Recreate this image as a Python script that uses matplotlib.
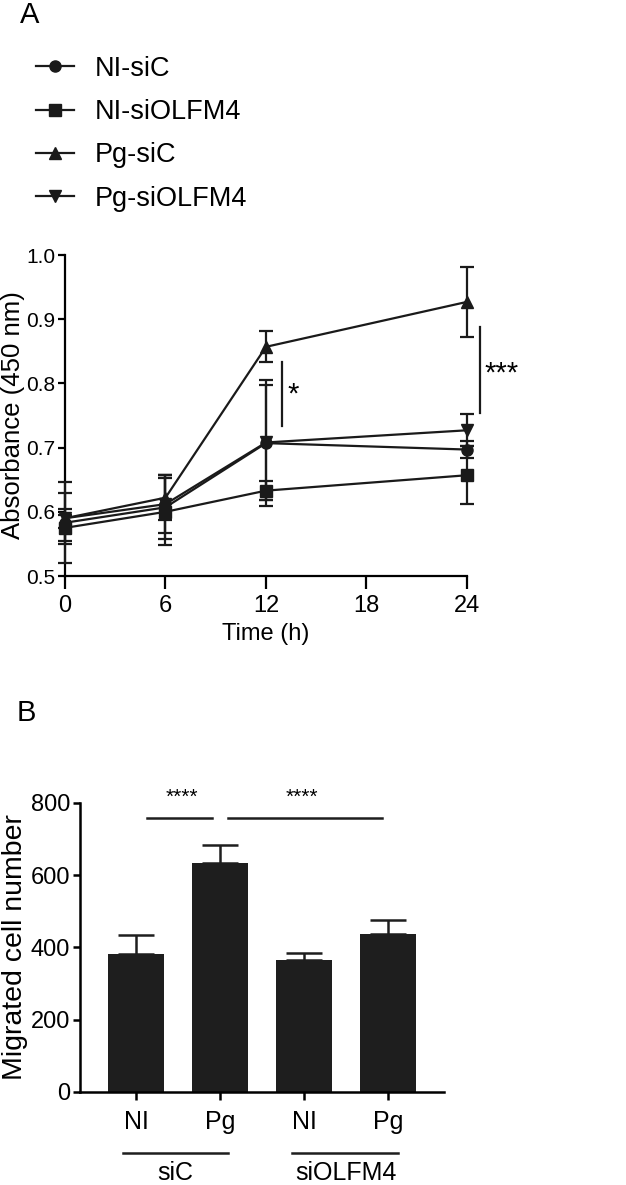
import matplotlib
matplotlib.use("Agg")
import matplotlib.pyplot as plt
from matplotlib.lines import Line2D

plt.rcParams['font.family'] = ['Liberation Sans', 'DejaVu Sans']

# Panel A data
time_h = [0, 6, 12, 24]
series_names = ['NI-siC', 'NI-siOLFM4', 'Pg-siC', 'Pg-siOLFM4']
series_markers = ['o', 's', '^', 'v']
absorbance = {
    'NI-siC':     [0.583, 0.607, 0.707, 0.697],
    'NI-siOLFM4': [0.575, 0.600, 0.633, 0.657],
    'Pg-siC':     [0.590, 0.622, 0.857, 0.927],
    'Pg-siOLFM4': [0.590, 0.612, 0.708, 0.727],
}
absorbance_err = {
    'NI-siC':     [0.063, 0.050, 0.098, 0.013],
    'NI-siOLFM4': [0.020, 0.052, 0.015, 0.045],
    'Pg-siC':     [0.015, 0.035, 0.024, 0.055],
    'Pg-siOLFM4': [0.040, 0.045, 0.090, 0.025],
}
x_ticks_a = [0, 6, 12, 18, 24]
y_ticks_a = [0.5, 0.6, 0.7, 0.8, 0.9, 1.0]

# Panel B data
groups = ['NI', 'Pg', 'NI', 'Pg']
migrated = [382, 633, 365, 436]
migrated_err = [52, 50, 21, 40]
y_ticks_b = [0, 200, 400, 600, 800]

ink = '#1a1a1a'
fig = plt.figure(figsize=(6.26, 11.85), dpi=100)

# ---------- Panel A ----------
ax = fig.add_axes([0.1038, 0.5139, 0.6422, 0.2709])
for name, mk in zip(series_names, series_markers):
    ax.errorbar(time_h, absorbance[name], yerr=absorbance_err[name],
                color=ink, marker=mk, markersize=8, linewidth=1.6,
                elinewidth=1.6, capsize=5, capthick=1.6, clip_on=False,
                zorder=3)
ax.set_xlim(0, 24)
ax.set_ylim(0.5, 1.0)
ax.set_xticks(x_ticks_a)
ax.set_yticks(y_ticks_a)
ax.set_yticklabels(['%.1f' % v for v in y_ticks_a])
ax.spines['top'].set_visible(False)
ax.spines['right'].set_visible(False)
for s in ['left', 'bottom']:
    ax.spines[s].set_linewidth(1.6)
ax.tick_params(axis='x', length=9, width=1.6, labelsize=17, pad=5)
ax.tick_params(axis='y', length=5, width=1.6, labelsize=15, pad=2)
ax.set_xlabel('Time (h)', fontsize=17, labelpad=4)
ax.set_ylabel('Absorbance (450 nm)', fontsize=18.5, labelpad=1)

# significance marks
ax.plot([12.95, 12.95], [0.733, 0.834], color=ink, lw=1.6, clip_on=False)
ax.text(13.3, 0.783, '*', fontsize=21, va='center', ha='left')
ax.plot([24.8, 24.8], [0.754, 0.888], color=ink, lw=1.6, clip_on=False)
ax.text(25.05, 0.815, '***', fontsize=21, va='center', ha='left')

handles = [Line2D([], [], color=ink, marker=mk, markersize=8, lw=1.6)
           for mk in series_markers]
fig.legend(handles, series_names, loc='upper left', bbox_to_anchor=(0.058, 0.953),
           frameon=False, fontsize=19.5, handlelength=1.4, handletextpad=0.75,
           labelspacing=0.64, borderaxespad=0, borderpad=0)

fig.text(0.032, 0.987, 'A', fontsize=21, ha='left', va='center')

# ---------- Panel B ----------
bx = fig.add_axes([0.1278, 0.0785, 0.5815, 0.2439])
pos = list(range(len(groups)))
bx.bar(pos, migrated, width=0.667, color='#1e1e1e', zorder=2)
bx.errorbar(pos, migrated, yerr=[[0] * len(migrated), migrated_err], fmt='none',
            ecolor='#1e1e1e', elinewidth=1.8, capsize=13, capthick=1.8, zorder=1)
bx.set_xlim(-0.667, 3.667)
bx.set_ylim(0, 800)
bx.set_yticks(y_ticks_b)
bx.set_xticks(pos)
bx.set_xticklabels(groups)
bx.spines['top'].set_visible(False)
bx.spines['right'].set_visible(False)
for s in ['left', 'bottom']:
    bx.spines[s].set_linewidth(1.8)
bx.tick_params(axis='x', length=6, width=1.8, labelsize=18, pad=7)
bx.tick_params(axis='y', length=5, width=1.8, labelsize=17, pad=2)
bx.set_ylabel('Migrated cell number', fontsize=20.5, labelpad=2)

# significance bars
bx.plot([0.13, 0.905], [758, 758], color='#1e1e1e', lw=1.8, clip_on=False)
bx.text(0.55, 790, '****', fontsize=15, ha='center', va='bottom')
bx.plot([1.095, 2.93], [758, 758], color='#1e1e1e', lw=1.8, clip_on=False)
bx.text(1.98, 790, '****', fontsize=15, ha='center', va='bottom')

# group labels below the axis
trans = bx.get_xaxis_transform()
bx.plot([-0.15, 1.1], [-0.21, -0.21], color='#1e1e1e', lw=1.8, transform=trans, clip_on=False)
bx.text(0.47, -0.24, 'siC', fontsize=18, ha='center', va='top', transform=trans)
bx.plot([1.86, 3.12], [-0.21, -0.21], color='#1e1e1e', lw=1.8, transform=trans, clip_on=False)
bx.text(2.5, -0.24, 'siOLFM4', fontsize=18, ha='center', va='top', transform=trans)

fig.text(0.027, 0.398, 'B', fontsize=21, ha='left', va='center')

fig.savefig('out.png', dpi=100)
